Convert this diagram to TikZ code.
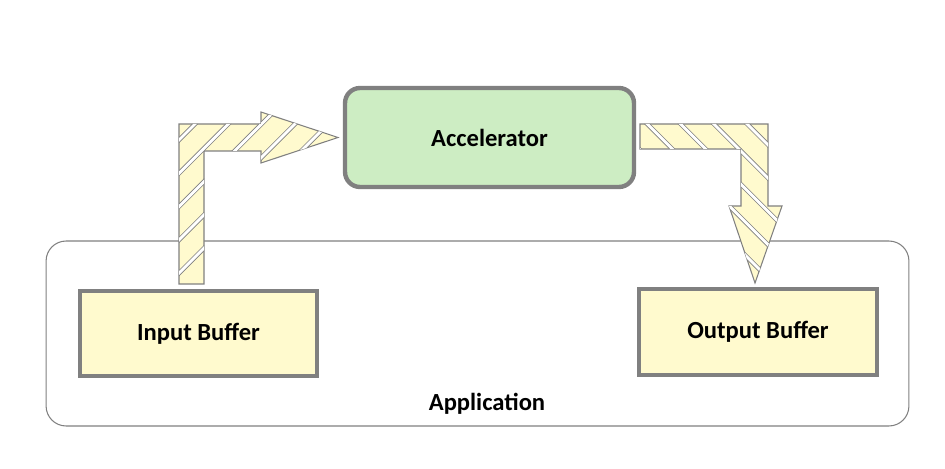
\documentclass[tikz,border=0pt]{standalone}
\usepackage{fontspec}
\setmainfont{Carlito}
\usetikzlibrary{calc}

\definecolor{bufyellow}{RGB}{255,250,206}
\definecolor{accgreen}{RGB}{205,237,195}
\definecolor{edgegray}{RGB}{128,128,128}

\tikzset{
  boxfont/.style={font=\fontsize{14}{17}\selectfont\bfseries},
  buffer/.style={boxfont, draw=edgegray, line width=2.3pt, fill=bufyellow, minimum width=4.75cm, minimum height=1.71cm},
  accel/.style={boxfont, draw=edgegray, line width=2.5pt, fill=accgreen, rounded corners=0.3cm, minimum width=5.78cm, minimum height=1.98cm},
  appbox/.style={draw=edgegray, line width=0.6pt, rounded corners=0.4cm, minimum width=17.26cm, minimum height=3.7cm},
  flow/.style={fill=bufyellow, draw=edgegray, line width=0.6pt},
  stripe/.style={draw=edgegray, line width=0.45pt, double=white, double distance=1.6pt}
}

\begin{document}
\begin{tikzpicture}[x=0.02cm, y=-0.02cm]
        \useasboundingbox (0,0) rectangle (945,469);
        % boxes
        \node[appbox] (app) at (477.5,333.5) {};
        \node[boxfont] (applbl) at (487,404) {Application};
        \node[buffer] (inbuf) at (198.5,333.5) {Input Buffer};
        \node[buffer] (outbuf) at (758,332) {Output Buffer};
        \node[accel] (acc) at (489.5,137.5) {Accelerator};
        % left arrow
        \coordinate (l1) at (179,284);
        \coordinate (l2) at (179,124);
        \coordinate (l3) at (261,124);
        \coordinate (l4) at (261,112);
        \coordinate (l5) at (338,137.5);
        \coordinate (l6) at (261,163);
        \coordinate (l7) at (261,151);
        \coordinate (l8) at (204,151);
        \coordinate (l9) at (204,284);
        \draw[flow] (l1)--(l2)--(l3)--(l4)--(l5)--(l6)--(l7)--(l8)--(l9)--cycle;
        \begin{scope}
            \clip (l1)--(l2)--(l3)--(l4)--(l5)--(l6)--(l7)--(l8)--(l9)--cycle;
            \foreach \c in {319,352.3,385.6,418.9,452.2}
                \draw[stripe] (\c-330,330) -- (\c-80,80);
        \end{scope}
        % right arrow
        \coordinate (r1) at (640,124);
        \coordinate (r2) at (768,124);
        \coordinate (r3) at (768,206);
        \coordinate (r4) at (782,206);
        \coordinate (r5) at (755,283);
        \coordinate (r6) at (729,206);
        \coordinate (r7) at (741,206);
        \coordinate (r8) at (741,149);
        \coordinate (r9) at (640,149);
        \draw[flow] (r1)--(r2)--(r3)--(r4)--(r5)--(r6)--(r7)--(r8)--(r9)--cycle;
        \begin{scope}
            \clip (r1)--(r2)--(r3)--(r4)--(r5)--(r6)--(r7)--(r8)--(r9)--cycle;
            \foreach \c in {490,523.3,556.6,589.9,623.2}
                \draw[stripe] (\c+80,80) -- (\c+330,330);
        \end{scope}
\end{tikzpicture}
\end{document}
